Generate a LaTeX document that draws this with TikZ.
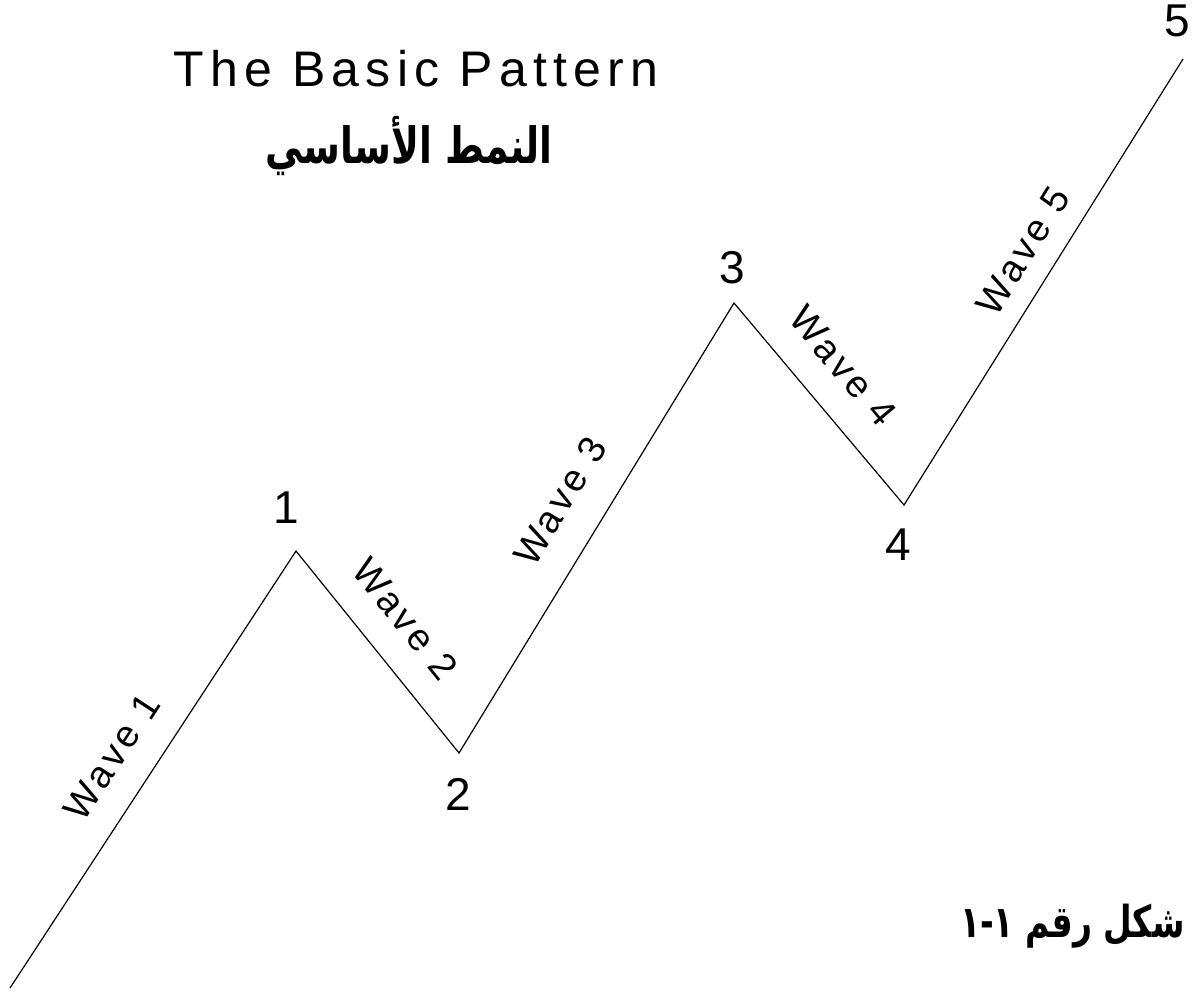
\documentclass[tikz,border=0pt]{standalone}
\usepackage{fontspec}
\setmainfont{Liberation Sans}
\newfontfamily\arabicfont[Script=Arabic, FakeStretch=0.75]{DejaVu Sans}
\TeXXeTstate=1
\newcommand\titlefont{\fontsize{25}{25}\selectfont\addfontfeature{LetterSpace=12.5}}
\newcommand\wavefont{\fontsize{19}{19}\selectfont\addfontfeature{LetterSpace=10}}
\newcommand\peakfont{\fontsize{23}{23}\selectfont}
\begin{document}
\begin{tikzpicture}[
    x=0.5pt, y=-0.5pt,
    wave/.style={font=\wavefont, inner sep=0pt},
    peak/.style={font=\peakfont, inner sep=0pt},
    zigzag/.style={line width=0.6pt, line join=miter}
]
    \useasboundingbox (0,0) rectangle (1197,992);

    % Wave end points
    \coordinate (p0) at (10,988);
    \coordinate (p1) at (296,551);
    \coordinate (p2) at (459,753);
    \coordinate (p3) at (734,303);
    \coordinate (p4) at (904,505);
    \coordinate (p5) at (1183,59);

    % The pattern
    \draw[zigzag] (p0) -- (p1) -- (p2) -- (p3) -- (p4) -- (p5);

    % Titles
    \node[font=\titlefont, inner sep=0pt] (title) at (416,69) {The Basic Pattern};
    \node[font=\arabicfont\bfseries\fontsize{25}{25}\selectfont, inner sep=0pt, anchor=base] (arabtitle) at (409,163) {\beginR النمط الأساسي\endR};
    \node[font=\arabicfont\bfseries\fontsize{22}{22}\selectfont, inner sep=0pt, anchor=base east] (fig) at (1185,937) {\beginR شكل رقم ١-١\endR};

    % Wave labels
    \node[wave, rotate=56.8] (w1) at (112,757) {Wave 1};
    \node[wave, rotate=-51.1] (w2) at (405,619) {Wave 2};
    \node[wave, rotate=58.6] (w3) at (560,501) {Wave 3};
    \node[wave, rotate=-49.9] (w4) at (843,366) {Wave 4};
    \node[wave, rotate=58.0] (w5) at (1023,251) {Wave 5};

    % Peak numbers
    \node[peak] (n1) at (286,508) {1};
    \node[peak] (n2) at (458,794) {2};
    \node[peak] (n3) at (732,268) {3};
    \node[peak] (n4) at (898,545) {4};
    \node[peak] (n5) at (1177,21) {5};
\end{tikzpicture}
\end{document}
